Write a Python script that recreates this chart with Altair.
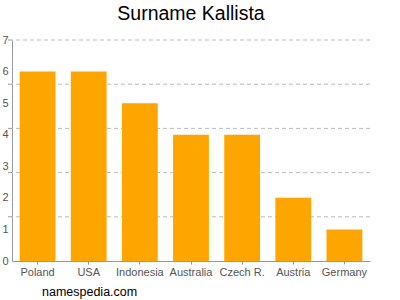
import altair as alt
import pandas as pd

countries = ["Poland", "USA", "Indonesia", "Australia", "Czech R.", "Austria", "Germany"]
counts = [6, 6, 5, 4, 4, 2, 1]
grid_values = [1.4, 2.8, 4.2, 5.6, 7.0]

df = pd.DataFrame({"country": countries, "count": counts})
gdf = pd.DataFrame({"g": grid_values})

yscale = alt.Scale(domain=[0, 7], nice=False)
yaxis = alt.Axis(values=[0, 1, 2, 3, 4, 5, 6, 7], grid=False, labelColor="#555555",
                 labelFontSize=11, labelFont="Liberation Sans",
                 domainColor="#999999", ticks=False, labelPadding=4)

grid = alt.Chart(gdf).mark_rule(color="#bbbbbb", strokeDash=[4, 3], strokeWidth=1).encode(
    y=alt.Y("g:Q", scale=yscale, axis=yaxis, title=None),
)

ticks = alt.Chart(gdf).mark_rule(color="#999999", strokeWidth=1).encode(
    y=alt.Y("g:Q", scale=yscale, axis=yaxis, title=None),
    x=alt.value(-4), x2=alt.value(0),
)

bars = alt.Chart(df).mark_bar(color="#ffa500").encode(
    x=alt.X("country:N", sort=countries, title=None,
            scale=alt.Scale(paddingInner=0.3, paddingOuter=0.15),
            axis=alt.Axis(labelAngle=0, labelColor="#555555", labelFontSize=11,
                          labelFont="Liberation Sans", domainColor="#999999",
                          tickColor="#999999", tickSize=3, labelPadding=2)),
    y=alt.Y("count:Q", scale=yscale, title=None, axis=yaxis),
)

brand = alt.Chart(pd.DataFrame({"t": ["namespedia.com"]})).mark_text(
    align="left", baseline="middle", fontSize=12.5, font="Liberation Sans", color="#000000"
).encode(x=alt.value(30), y=alt.value(252), text="t:N")

chart = alt.layer(grid, ticks, bars, brand).properties(
    width=358, height=221,
    title=alt.TitleParams("Surname Kallista", fontSize=19.5, font="Liberation Sans",
                          fontWeight="normal", color="#000000", offset=10, anchor="middle"),
    autosize=alt.AutoSizeParams(type="none"),
    padding={"left": 12, "top": 40, "right": 30, "bottom": 39},
).configure_view(stroke=None)

chart.save("out.html", embed_options={"renderer": "svg", "actions": False})
